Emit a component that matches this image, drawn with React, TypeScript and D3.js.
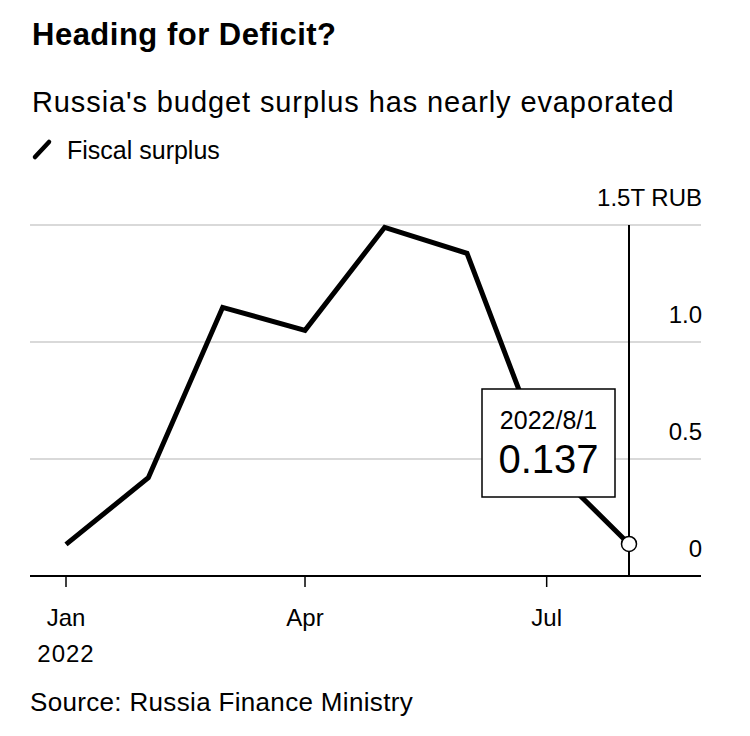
import React from "react";
import * as d3 from "d3";

const months = ["2022-01-01", "2022-02-01", "2022-03-01", "2022-04-01", "2022-05-01", "2022-06-01", "2022-07-01", "2022-08-01"];
const surplus = [0.135, 0.42, 1.148, 1.05, 1.49, 1.379, 0.485, 0.137];
const yTicks = [0, 0.5, 1.0, 1.5];
const yTickLabels = ["0", "0.5", "1.0", "1.5T RUB"];
const xTicks = ["2022-01-01", "2022-04-01", "2022-07-01"];
const xTickLabels = ["Jan", "Apr", "Jul"];

const title = "Heading for Deficit?";
const subtitle = "Russia's budget surplus has nearly evaporated";
const legendLabel = "Fiscal surplus";
const source = "Source: Russia Finance Ministry";
const tooltipDate = "2022/8/1";
const tooltipValue = "0.137";

const FONT = "'Liberation Sans', Arial, Helvetica, sans-serif";

export default function App() {
  const W = 750;
  const H = 736;
  const parse = d3.timeParse("%Y-%m-%d");
  const dates = months.map((m) => parse(m) as Date);
  const x = d3.scaleTime().domain([dates[0], dates[dates.length - 1]]).range([66, 629]);
  const y = d3.scaleLinear().domain([0, 1.5]).range([576, 225]);
  const gridLeft = 30;
  const gridRight = 701;

  const data = dates.map((d, i) => ({ d, v: surplus[i] }));
  const line = d3
    .line<{ d: Date; v: number }>()
    .x((p) => x(p.d))
    .y((p) => y(p.v));

  const last = data[data.length - 1];
  const lx = x(last.d);
  const ly = y(last.v);

  return (
    <svg
      width={W}
      height={H}
      style={{ position: "absolute", left: 0, top: 0, background: "#fff" }}
      fontFamily={FONT}
    >
      <rect x={0} y={0} width={W} height={H} fill="#fff" />
      <text x={32} y={45} fontSize={31} fontWeight="bold" fill="#000" letterSpacing={0.5}>
        {title}
      </text>
      <text x={32} y={112} fontSize={29} fill="#000" letterSpacing={0.9}>
        {subtitle}
      </text>
      <line x1={35} y1={157} x2={49} y2={142} stroke="#000" strokeWidth={4.5} strokeLinecap="round" />
      <text x={67} y={159} fontSize={25} fill="#000">
        {legendLabel}
      </text>

      {yTicks.map((t, i) =>
        t > 0 ? (
          <line key={"g" + i} x1={gridLeft} x2={gridRight} y1={y(t)} y2={y(t)} stroke="#d9d9d9" strokeWidth={2} />
        ) : null
      )}
      {yTicks.map((t, i) => (
        <text key={"yl" + i} x={702} y={y(t) - 19} fontSize={24} textAnchor="end" fill="#000">
          {yTickLabels[i]}
        </text>
      ))}

      <line x1={gridLeft} x2={gridRight} y1={y(0)} y2={y(0)} stroke="#000" strokeWidth={2} />
      {xTicks.map((t, i) => {
        const xx = x(parse(t) as Date);
        return (
          <g key={"xt" + i}>
            <line x1={xx} x2={xx} y1={y(0)} y2={y(0) + 11} stroke="#000" strokeWidth={1.5} />
            <text x={xx} y={626} fontSize={24} textAnchor="middle" fill="#000">
              {xTickLabels[i]}
            </text>
            {i === 0 ? (
              <text x={xx} y={662} fontSize={24} textAnchor="middle" fill="#000" letterSpacing={1}>
                2022
              </text>
            ) : null}
          </g>
        );
      })}

      <line x1={lx} x2={lx} y1={y(1.5)} y2={y(0)} stroke="#000" strokeWidth={2} />
      <path d={line(data) || ""} fill="none" stroke="#000" strokeWidth={5} strokeLinejoin="miter" />
      <circle cx={lx} cy={ly} r={7.5} fill="#fff" stroke="#000" strokeWidth={1.5} />

      <rect x={482} y={389} width={133} height={108} fill="#fff" stroke="#000" strokeWidth={1.5} />
      <text x={548.5} y={429} fontSize={25} textAnchor="middle" fill="#000">
        {tooltipDate}
      </text>
      <text x={548.5} y={473} fontSize={40} textAnchor="middle" fill="#000">
        {tooltipValue}
      </text>

      <text x={30} y={711} fontSize={26} fill="#000" letterSpacing={0.33}>
        {source}
      </text>
    </svg>
  );
}
